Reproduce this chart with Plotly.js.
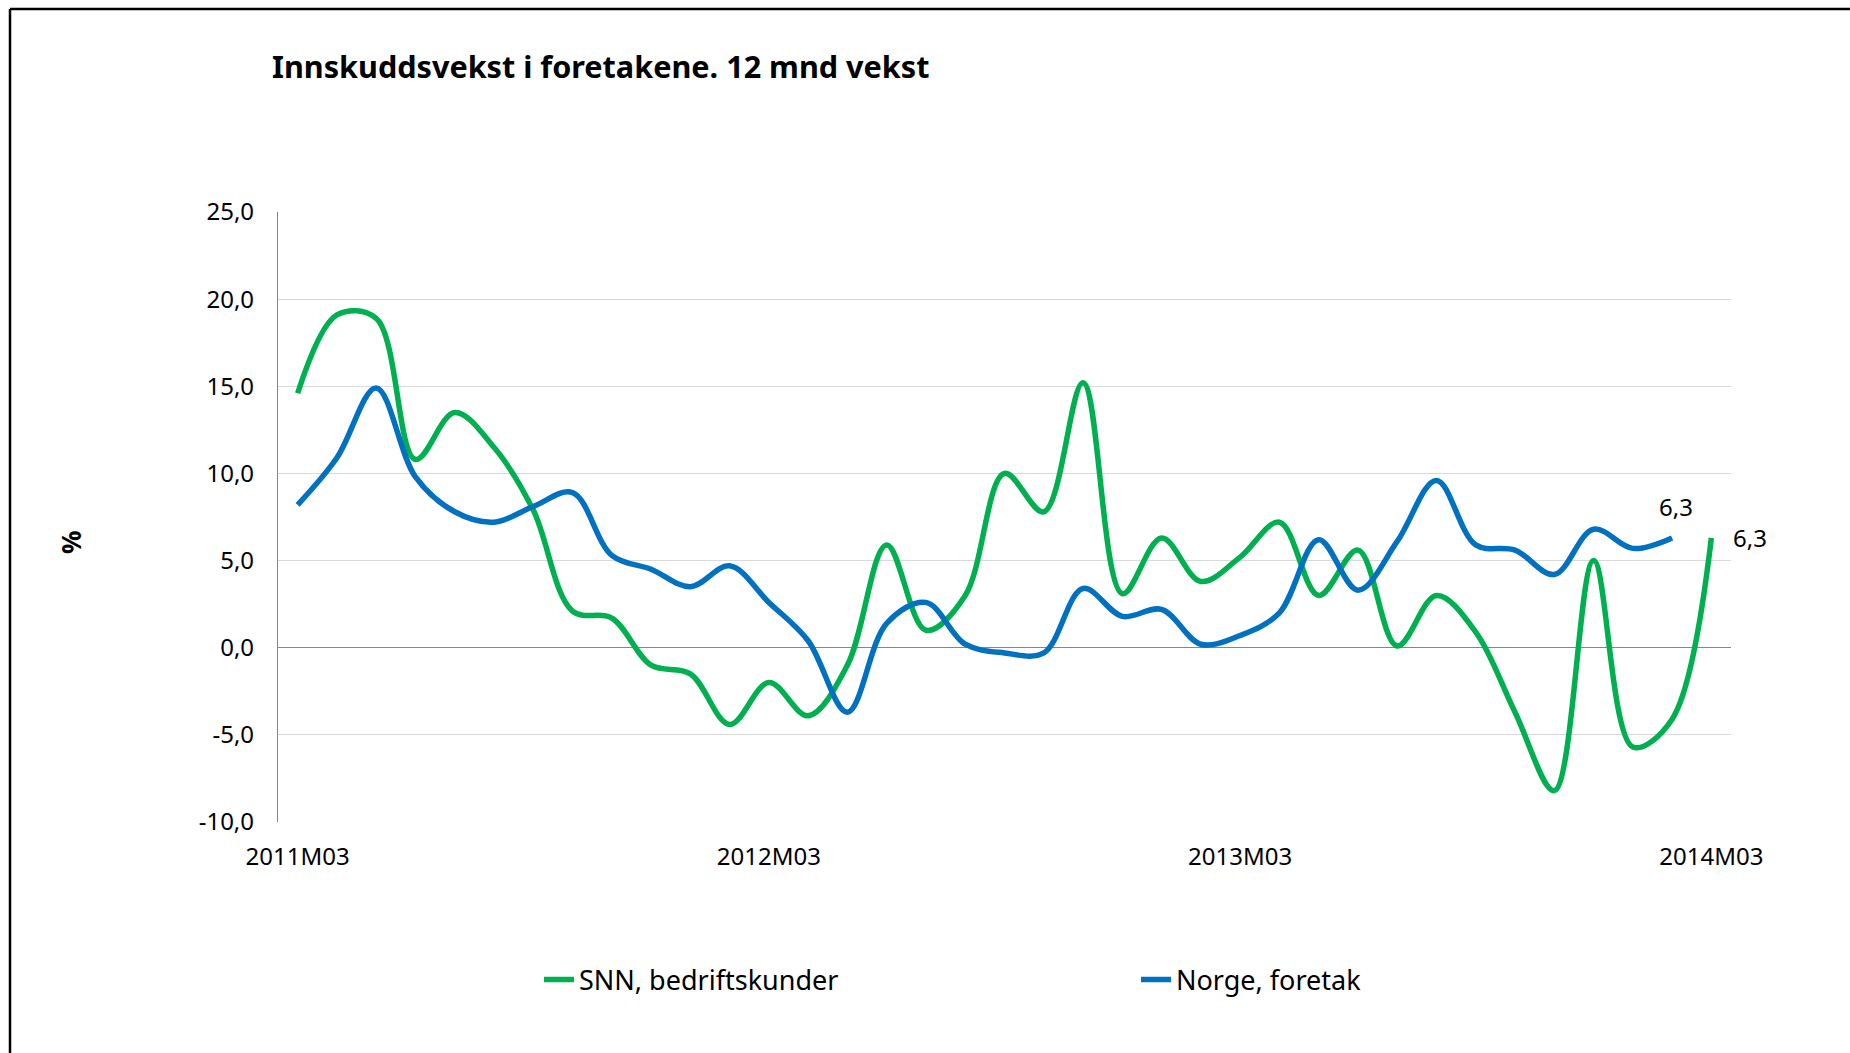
<!DOCTYPE html>
<html>
<head>
<meta charset="utf-8">
<script src="https://cdn.plot.ly/plotly-3.0.1.min.js"></script>
<style>
  html, body { margin: 0; padding: 0; background: #ffffff; }
  #chart { width: 1850px; height: 1053px; }
</style>
</head>
<body>
<div id="chart"></div>
<script>
const months = [
  "2011M03","2011M04","2011M05","2011M06","2011M07","2011M08","2011M09","2011M10","2011M11","2011M12",
  "2012M01","2012M02","2012M03","2012M04","2012M05","2012M06","2012M07","2012M08","2012M09","2012M10","2012M11","2012M12",
  "2013M01","2013M02","2013M03","2013M04","2013M05","2013M06","2013M07","2013M08","2013M09","2013M10","2013M11","2013M12",
  "2014M01","2014M02","2014M03"
];
const snnBedriftskunder = [14.6, 19.1, 18.9, 10.8, 13.5, 11.5, 7.9, 2.1, 1.7, -1.0, -1.5, -4.4, -2.0, -3.9, -1.0, 5.9, 1.0, 3.0, 10.0, 7.8, 15.2, 3.1, 6.3, 3.8, 5.2, 7.2, 3.0, 5.6, 0.1, 3.0, 0.9, -3.7, -8.2, 5.0, -5.7, -4.1, 6.3];
const norgeForetak = [8.2, 10.9, 14.9, 9.8, 7.8, 7.2, 8.1, 8.9, 5.3, 4.5, 3.5, 4.7, 2.6, 0.4, -3.7, 1.4, 2.6, 0.2, -0.3, -0.3, 3.4, 1.8, 2.2, 0.2, 0.7, 2.0, 6.2, 3.3, 6.1, 9.6, 5.9, 5.6, 4.2, 6.8, 5.7, 6.3];
const xTickVals = ["2011M03", "2012M03", "2013M03", "2014M03"];
const yTickVals = [-10, -5, 0, 5, 10, 15, 20, 25];
const seriesNames = ["SNN, bedriftskunder", "Norge, foretak"];
const titleText = "Innskuddsvekst i foretakene. 12 mnd vekst";
const yAxisTitle = "%";

const fmt = v => v.toFixed(1).replace('.', ',');

const FONT = "Noto Sans, Open Sans, sans-serif";

const traces = [
  {
    type: 'scatter', mode: 'lines', name: seriesNames[0],
    x: months.slice(0, snnBedriftskunder.length), y: snnBedriftskunder,
    line: { color: '#00B050', width: 5.5, shape: 'spline', smoothing: 1 },
    hoverinfo: 'x+y'
  },
  {
    type: 'scatter', mode: 'lines', name: seriesNames[1],
    x: months.slice(0, norgeForetak.length), y: norgeForetak,
    line: { color: '#0070C0', width: 5.5, shape: 'spline', smoothing: 1 },
    hoverinfo: 'x+y'
  }
];

// plot area geometry in pixels
const L = 278, R = 1731, T = 212, B = 822;
const W = 1850, H = 1053;
const px = x => (x - L) / (R - L);
const py = y => (B - y) / (B - T);

const gLast = snnBedriftskunder.length - 1;
const bLast = norgeForetak.length - 1;

const layout = {
  width: W, height: H,
  margin: { l: L, r: W - R, t: T, b: H - B, pad: 0 },
  paper_bgcolor: '#ffffff', plot_bgcolor: '#ffffff',
  separators: ', ',
  font: { family: FONT, size: 24, color: '#000000' },
  title: {
    text: '<b>' + titleText + '</b>',
    font: { family: FONT, size: 30.6, color: '#000000' },
    x: 272 / W, xanchor: 'left', xref: 'container',
    y: 1 - 67 / H, yanchor: 'middle', yref: 'container'
  },
  xaxis: {
    type: 'category', categoryorder: 'array', categoryarray: months,
    range: [-0.5, months.length - 0.5],
    tickmode: 'array', tickvals: xTickVals, ticktext: xTickVals,
    showgrid: false, zeroline: false, showline: false,
    ticks: '', ticklabelstandoff: 18,
    tickfont: { family: FONT, size: 24, color: '#000000' },
    fixedrange: true
  },
  yaxis: {
    range: [-10, 25], tickmode: 'array', tickvals: yTickVals,
    ticktext: yTickVals.map(fmt),
    showgrid: true, gridcolor: '#D9D9D9', gridwidth: 1.3,
    zeroline: true, zerolinecolor: '#868686', zerolinewidth: 1.3,
    showline: true, linecolor: '#868686', linewidth: 1.3,
    ticks: '', ticklabelstandoff: 18,
    tickfont: { family: FONT, size: 24, color: '#000000' },
    fixedrange: true
  },
  showlegend: true,
  legend: {
    orientation: 'h', x: px(539), xanchor: 'left', y: py(980), yanchor: 'middle',
    entrywidth: 552, entrywidthmode: 'pixels',
    font: { family: FONT, size: 27, color: '#000000' },
    bgcolor: 'rgba(0,0,0,0)', borderwidth: 0, traceorder: 'normal'
  },
  annotations: [
    { xref: 'paper', yref: 'paper', x: px(71), y: py(543), text: '<b>' + yAxisTitle + '</b>',
      textangle: -90, showarrow: false, xanchor: 'center', yanchor: 'middle',
      font: { family: FONT, size: 26, color: '#000000' } },
    { xref: 'x', yref: 'y', x: months[bLast], y: norgeForetak[bLast], text: fmt(norgeForetak[bLast]),
      showarrow: false, xanchor: 'center', yanchor: 'middle', xshift: 4, yshift: 31,
      font: { family: FONT, size: 24, color: '#000000' } },
    { xref: 'x', yref: 'y', x: months[gLast], y: snnBedriftskunder[gLast], text: fmt(snnBedriftskunder[gLast]),
      showarrow: false, xanchor: 'left', yanchor: 'middle', xshift: 20, yshift: 0,
      font: { family: FONT, size: 24, color: '#000000' } }
  ],
  shapes: [
    { type: 'line', xref: 'paper', yref: 'paper', x0: px(10), x1: px(1860), y0: py(9), y1: py(9),
      line: { color: '#000000', width: 2.5 } },
    { type: 'line', xref: 'paper', yref: 'paper', x0: px(10), x1: px(10), y0: py(9), y1: py(1060),
      line: { color: '#000000', width: 2.5 } }
  ]
};

Plotly.newPlot('chart', traces, layout, { displayModeBar: false, responsive: false });
</script>
</body>
</html>
